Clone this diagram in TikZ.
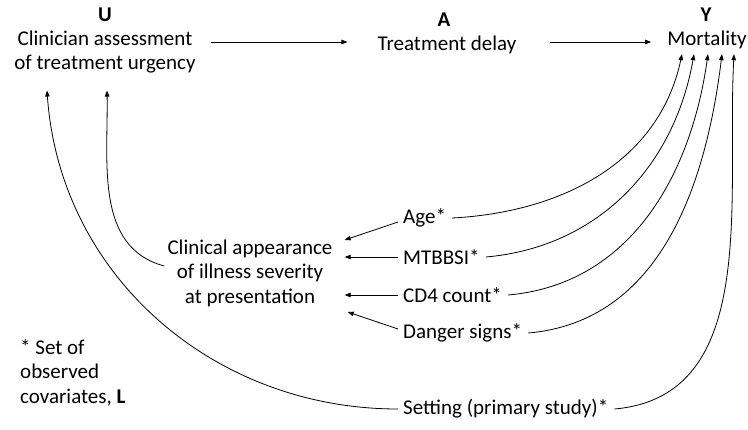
\documentclass[tikz,border=0pt]{standalone}
\usepackage{fontspec}
\setmainfont{Carlito}
\usetikzlibrary{arrows.meta}
\begin{document}
\begin{tikzpicture}[x=1pt,y=-1pt,
  every node/.style={inner sep=0pt, font=\fontsize{21}{24.5}\selectfont},
  lbl/.style={font=\fontsize{21}{24}\selectfont\bfseries},
  txt/.style={align=center},
  cov/.style={anchor=west},
  arr/.style={-{Triangle[length=6pt,width=4.5pt]}, line width=0.8pt}]
\useasboundingbox (0,0) rectangle (748,429);
% top row
\node[lbl] (uL) at (105,15) {U};
\node[txt] (u) at (105,52) {Clinician assessment\\of treatment urgency};
\node[lbl] (aL) at (444,20) {A};
\node[txt] (a) at (447,45) {Treatment delay};
\node[lbl] (yL) at (706,15) {Y};
\node[txt] (y) at (707,40) {Mortality};
% middle
\node[txt] (clin) at (250,273) {Clinical appearance\\of illness severity\\at presentation};
\node[cov] (age) at (403,218) {Age*};
\node[cov] (mtb) at (403,257) {MTBBSI*};
\node[cov] (cd4) at (403,295) {CD4 count*};
\node[cov] (dan) at (403,333) {Danger signs*};
\node[cov] (set) at (403,409) {Setting (primary study)*};
\node[anchor=north west, align=left] (note) at (20,339) {* Set of\\observed\\covariates, \textbf{L}};
% target points
\coordinate (y1) at ([xshift=-25pt,yshift=-5pt]y.south);
\coordinate (y2) at ([xshift=-13pt,yshift=-5pt]y.south);
\coordinate (y3) at ([xshift=1pt,yshift=-5pt]y.south);
\coordinate (y4) at ([xshift=15pt,yshift=-5pt]y.south);
\coordinate (y5) at ([xshift=27pt,yshift=-5pt]y.south);
\coordinate (u1) at ([xshift=-58pt,yshift=-17pt]u.south);
\coordinate (u2) at ([xshift=2pt,yshift=-17pt]u.south);
% main arrows
\draw[arr] ([xshift=15pt,yshift=10pt]u.east) -- ([xshift=-30pt,yshift=3pt]a.west);
\draw[arr] ([xshift=33pt,yshift=3pt]a.east) -- ([xshift=-16pt,yshift=-2pt]y.west);
% covariates -> clinical appearance
\draw[arr] ([xshift=-5pt,yshift=-4pt]age.west) -- ([xshift=12pt,yshift=33pt]clin.east);
\draw[arr] ([xshift=-5pt]mtb.west) -- ([xshift=12pt,yshift=16pt]clin.east);
\draw[arr] ([xshift=-5pt]cd4.west) -- ([xshift=12pt,yshift=-22pt]clin.east);
\draw[arr] ([xshift=-5pt,yshift=4pt]dan.west) -- ([xshift=15pt,yshift=-39pt]clin.east);
% covariates -> mortality
\draw[arr] ([xshift=6pt]age.east) to[out=3,in=-102] (y1);
\draw[arr] ([xshift=6pt]mtb.east) to[out=5,in=-100] (y2);
\draw[arr] ([xshift=6pt]cd4.east) to[out=5,in=-98] (y3);
\draw[arr] ([xshift=6pt]dan.east) to[out=5,in=-97] (y4);
\draw[arr] ([xshift=6pt]set.east) to[out=5,in=-93] (y5);
% -> clinician assessment
\draw[arr] ([xshift=-3pt,yshift=7pt]clin.west) to[out=165,in=-89] (u2);
\draw[arr] ([xshift=-5pt]set.west) to[out=180,in=-86] (u1);
\end{tikzpicture}
\end{document}
